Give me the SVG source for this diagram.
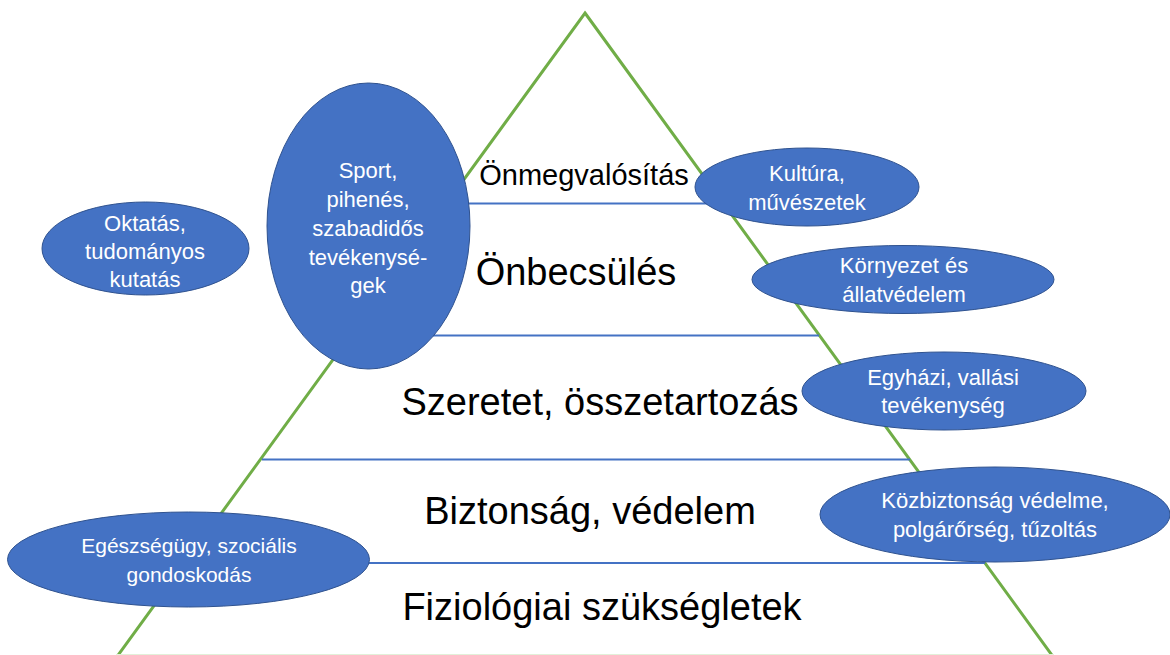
<svg xmlns="http://www.w3.org/2000/svg" width="1170" height="655" viewBox="0 0 1170 655">
<style>
.edge{fill:none;stroke:#70ad47;stroke-width:3}
.sep{stroke:#4472c4;stroke-width:2}
.bub{fill:#4472c4;stroke:#2f528f;stroke-width:1}
.bt{fill:#ffffff;font-family:"Liberation Sans",Arial,sans-serif;font-size:22px;text-anchor:middle}
.lv{fill:#000000;font-family:"Liberation Sans",Arial,sans-serif;font-size:38px;text-anchor:middle}
</style>
<rect x="0" y="0" width="1170" height="655" fill="#ffffff"/>
<g id="pyramid">
  <polygon class="edge" points="585,13 1054,658 116,658"/>
  <line x1="116" y1="654.5" x2="1054" y2="654.5" stroke="#e2f0d9" stroke-width="1"/>
  <g id="separators">
    <line class="sep" x1="463" y1="203.5" x2="724" y2="203.5"/>
    <line class="sep" x1="350" y1="335.5" x2="819" y2="335.5"/>
    <line class="sep" x1="262" y1="459.5" x2="910" y2="459.5"/>
    <line class="sep" x1="186" y1="563" x2="985" y2="563"/>
  </g>
  <g id="level-onmegvalositas"><text class="lv" style="font-size:29px" x="584" y="185">Önmegvalósítás</text></g>
  <g id="level-onbecsules"><text class="lv" x="576" y="285">Önbecsülés</text></g>
  <g id="level-szeretet"><text class="lv" x="600" y="415">Szeretet, összetartozás</text></g>
  <g id="level-biztonsag"><text class="lv" x="590" y="524">Biztonság, védelem</text></g>
  <g id="level-fiziologiai"><text class="lv" x="602" y="620">Fiziológiai szükségletek</text></g>
</g>
<g id="node-sport">
  <ellipse class="bub" cx="368.5" cy="226" rx="101.5" ry="143"/>
  <text class="bt" x="368" y="178">Sport,</text>
  <text class="bt" x="368" y="207">pihenés,</text>
  <text class="bt" x="368" y="236">szabadidős</text>
  <text class="bt" x="368" y="265">tevékenysé-</text>
  <text class="bt" x="368" y="293">gek</text>
</g>
<g id="node-oktatas">
  <ellipse class="bub" cx="145.5" cy="248.5" rx="103.5" ry="46.5"/>
  <text class="bt" x="145" y="231">Oktatás,</text>
  <text class="bt" x="145" y="259">tudományos</text>
  <text class="bt" x="145" y="287">kutatás</text>
</g>
<g id="node-kultura">
  <ellipse class="bub" cx="807" cy="187" rx="112" ry="39"/>
  <text class="bt" x="807" y="181">Kultúra,</text>
  <text class="bt" x="807" y="210">művészetek</text>
</g>
<g id="node-kornyezet">
  <ellipse class="bub" cx="903" cy="279.5" rx="151" ry="34"/>
  <text class="bt" x="904" y="273">Környezet és</text>
  <text class="bt" x="904" y="302">állatvédelem</text>
</g>
<g id="node-egyhazi">
  <ellipse class="bub" cx="944" cy="391" rx="142" ry="39"/>
  <text class="bt" x="943" y="385">Egyházi, vallási</text>
  <text class="bt" x="943" y="413">tevékenység</text>
</g>
<g id="node-kozbiztonsag">
  <ellipse class="bub" cx="995" cy="514.5" rx="175" ry="47.5"/>
  <text class="bt" x="995" y="508">Közbiztonság védelme,</text>
  <text class="bt" x="995" y="537">polgárőrség, tűzoltás</text>
</g>
<g id="node-egeszsegugy">
  <ellipse class="bub" cx="188.5" cy="559.5" rx="181" ry="47.5"/>
  <text class="bt" style="font-size:21px" x="189" y="553">Egészségügy, szociális</text>
  <text class="bt" style="font-size:21px" x="189" y="582">gondoskodás</text>
</g>
</svg>
